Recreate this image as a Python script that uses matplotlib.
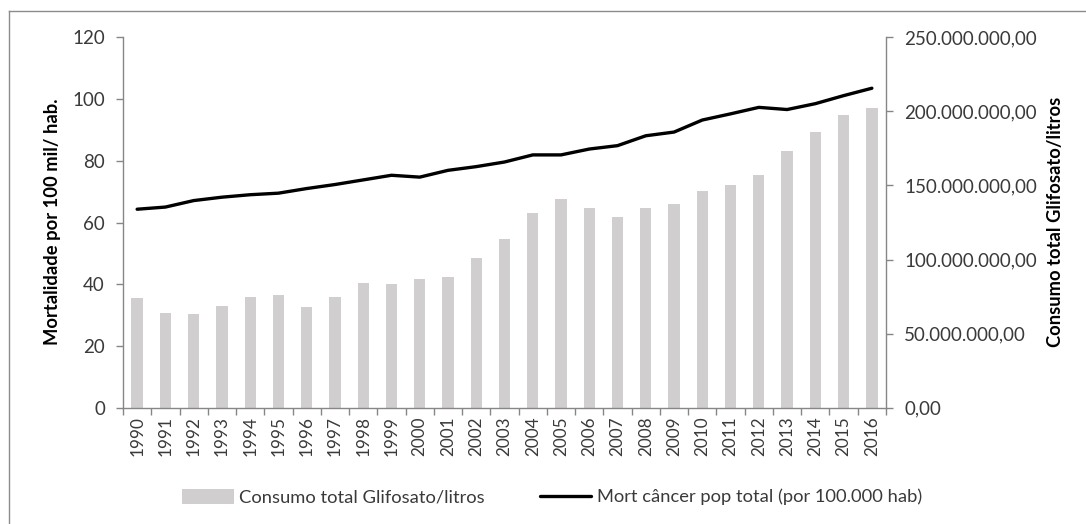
import matplotlib
matplotlib.use("Agg")
import matplotlib.pyplot as plt
from matplotlib.lines import Line2D
from matplotlib.ticker import FuncFormatter, FixedLocator
import numpy as np

# Data
anos = [str(a) for a in range(1990, 2017)]
consumo_glifosato = [73.8, 64.1, 63.2, 68.9, 74.7, 76.1, 68.2, 74.7, 84.2, 83.5,
                     86.6, 88.2, 101.3, 114.1, 131.2, 140.6, 135.0, 128.5, 135.0, 137.5,
                     146.3, 150.5, 156.8, 173.0, 185.9, 197.3, 202.1]  # milhões de litros
mortalidade_cancer = [64.3, 65.0, 67.1, 68.2, 69.0, 69.5, 71.0, 72.3, 73.8, 75.3,
                      74.7, 76.9, 78.1, 79.6, 81.9, 81.9, 83.8, 84.9, 88.1, 89.3,
                      93.2, 95.2, 97.3, 96.6, 98.5, 101.1, 103.5]

plt.rcParams['font.family'] = ['Lato', 'DejaVu Sans']

W, H = 1086, 524
fig = plt.figure(figsize=(W / 100, H / 100), dpi=100)
fig.patch.set_facecolor('white')

ax = fig.add_axes([123 / W, 1 - 407.7 / H, (886 - 123) / W, (407.7 - 37.3) / H])
ax2 = ax.twinx()

x = np.arange(len(anos))
bar_color = '#D0CECE'
axis_color = '#868686'
text_color = '#3a3a3a'

bars = ax2.bar(x, np.array(consumo_glifosato) * 1e6, width=0.4, color=bar_color,
               label='Consumo total Glifosato/litros', zorder=2)
line, = ax.plot(x, mortalidade_cancer, color='black', lw=2.4, solid_joinstyle='round',
                solid_capstyle='round', label='Mort câncer pop total (por 100.000 hab)', zorder=3)

ax.set_zorder(ax2.get_zorder() + 1)
ax.patch.set_visible(False)

ax.set_xlim(-0.5, len(anos) - 0.5)
ax.set_ylim(0, 120)
ax2.set_ylim(0, 250e6)
ax.set_yticks(np.arange(0, 121, 20))
ax2.set_yticks(np.arange(0, 250e6 + 1, 50e6))


def br_fmt(v, pos):
    s = f"{v:,.2f}"
    return s.replace(',', '#').replace('.', ',').replace('#', '.')


ax2.yaxis.set_major_formatter(FuncFormatter(br_fmt))

# category labels at centers, tick marks on boundaries
ax.set_xticks(x)
ax.set_xticklabels(anos, rotation=90, fontsize=12.3, color=text_color)
ax.tick_params(axis='x', which='major', length=0, pad=6)
ax.xaxis.set_minor_locator(FixedLocator(np.arange(-0.5, len(anos), 1.0)))
ax.tick_params(axis='x', which='minor', length=5, color=axis_color, width=1)

ax.tick_params(axis='y', length=5, color=axis_color, width=1, labelsize=13.5,
               labelcolor=text_color, pad=8)
ax2.tick_params(axis='y', length=5, color=axis_color, width=1, labelsize=13.5,
                labelcolor=text_color, pad=8)

for a in (ax, ax2):
    a.spines['top'].set_visible(False)
    for s in ('left', 'right', 'bottom'):
        a.spines[s].set_color(axis_color)
        a.spines[s].set_linewidth(1)
ax.spines['right'].set_visible(False)
ax2.spines['left'].set_visible(False)
ax2.spines['bottom'].set_visible(False)

fig.text(53 / W, 1 - 222 / H, 'Mortalidade por 100 mil/ hab.', rotation=90, fontsize=13.2,
         fontweight='bold', color='black', ha='center', va='center')
fig.text(1055 / W, 1 - 222 / H, 'Consumo total Glifosato/litros', rotation=90, fontsize=13.2,
         fontweight='bold', color='black', ha='center', va='center')

leg = fig.legend(handles=[bars, line], loc='center', bbox_to_anchor=(552 / W, 1 - 497 / H),
                 ncol=2, frameon=False, fontsize=13.2, handlelength=2.8, handleheight=0.9,
                 columnspacing=3.0, handletextpad=0.3, labelcolor=text_color)

# outer frame of the chart area
frame_color = '#8c8c8c'
fig.add_artist(Line2D([8.5 / W, 8.5 / W], [1 - 11 / H, 0], transform=fig.transFigure,
                      color=frame_color, lw=1))
fig.add_artist(Line2D([8.5 / W, 1085 / W], [1 - 11 / H, 1 - 11 / H], transform=fig.transFigure,
                      color=frame_color, lw=1))

fig.savefig('out.png', dpi=100, facecolor='white')
